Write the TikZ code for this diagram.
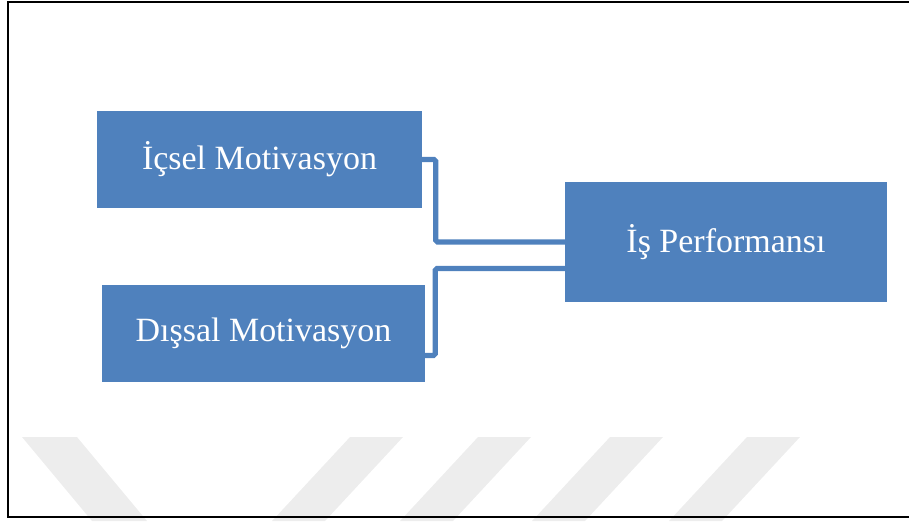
\documentclass[tikz,border=0pt]{standalone}
\usepackage{fontspec}
\setmainfont{Liberation Serif}
\usetikzlibrary{calc}
\definecolor{mavi}{HTML}{4F81BD}

\begin{document}
\begin{tikzpicture}[x=0.03cm,y=-0.03cm,
  kutu/.style={fill=mavi,text=white,inner sep=0pt,font=\fontsize{29}{35}\selectfont},
  bag/.style={draw=mavi,line width=4.3pt,rounded corners=1.5pt}]
\useasboundingbox (0,0) rectangle (909,521);
% filigran
\foreach \x in {350,478,610,747}
  \fill[black!7] (\x,437) -- (\x+53,437) -- (\x-25,521) -- (\x-78,521) -- cycle;
\fill[black!7] (22,437) -- (77,437) -- (147,521) -- (92,521) -- cycle;
% cerceve
\draw[line width=1.6pt] (8,2) rectangle (915,517);

\node[kutu,minimum width=9.75cm,minimum height=2.91cm] (icsel) at (259.5,159.5) {İçsel Motivasyon};
\node[kutu,minimum width=9.69cm,minimum height=2.91cm] (dissal) at (263.5,333.5) {Dışsal Motivasyon};
\node[kutu,minimum width=9.66cm,minimum height=3.6cm] (perf) at (726,242) {İş Performansı};

\coordinate (d1) at ($(dissal.east)+(0,22)$);
\coordinate (p2) at ($(perf.west)+(0,26.5)$);
\draw[bag] (icsel.east) -| ($(perf.west)+(-129,0)$) -- (perf.west);
\draw[bag] (d1) -| ($(p2)+(-129.5,0)$) -- (p2);
\end{tikzpicture}
\end{document}
